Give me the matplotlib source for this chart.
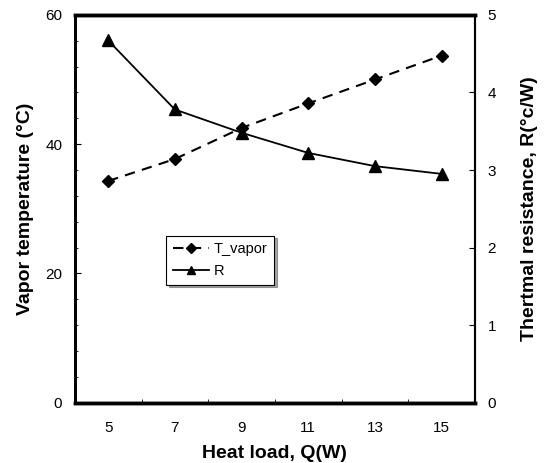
import matplotlib.pyplot as plt
from matplotlib.ticker import FixedLocator, NullFormatter

plt.rcParams['font.family'] = ['Liberation Sans', 'DejaVu Sans']

# 数据
heat_load = [5, 7, 9, 11, 13, 15]
t_vapor = [34.3, 37.7, 42.5, 46.3, 50.0, 53.7]
resistance = [4.67, 3.78, 3.48, 3.22, 3.05, 2.95]
x_labels = ['5', '7', '9', '11', '13', '15']

fig = plt.figure(figsize=(5.46, 4.63), dpi=100)
ax = fig.add_axes([0.137, 0.130, 0.733, 0.838])
ax2 = ax.twinx()

l1, = ax.plot(heat_load, t_vapor, color='black', linestyle=(0, (5, 3.5)), linewidth=1.5,
              marker='D', markersize=6, label='T_vapor')
l2, = ax2.plot(heat_load, resistance, color='black', linestyle='-', linewidth=1.3,
               marker='^', markersize=8, label='R')

ax.set_xlim(4, 16)
ax.set_ylim(0, 60)
ax2.set_ylim(0, 5)

# x 轴：刻度线在偶数位置，标签在奇数位置
ax.xaxis.set_major_locator(FixedLocator(heat_load))
ax.set_xticklabels(x_labels)
ax.tick_params(axis='x', which='major', length=0, pad=13, labelsize=11)
ax.xaxis.set_minor_locator(FixedLocator([6, 8, 10, 12, 14]))
ax.xaxis.set_minor_formatter(NullFormatter())
ax.tick_params(axis='x', which='minor', direction='in', length=3)

ax.set_yticks([0, 20, 40, 60])
ax.tick_params(axis='y', direction='in', length=4, labelsize=11, pad=9)
ax.yaxis.set_minor_locator(FixedLocator(list(range(4, 60, 4))))
ax.tick_params(axis='y', which='minor', direction='in', length=2)

ax2.set_yticks([0, 1, 2, 3, 4, 5])
ax2.tick_params(axis='y', direction='in', length=4, labelsize=11, pad=9)

for side, w in [('top', 2.5), ('bottom', 2.5), ('left', 2.0), ('right', 1.5)]:
    ax.spines[side].set_linewidth(w)
    ax2.spines[side].set_linewidth(w)

ax.set_xlabel('Heat load, Q(W)', fontsize=14, fontweight='bold', labelpad=7)
ax.set_ylabel('Vapor temperature (°C)', fontsize=14, fontweight='bold', labelpad=8)
ax2.set_ylabel('Thertmal resistance, R(°c/W)', fontsize=14, fontweight='bold', labelpad=18)

leg = ax.legend(handles=[l1, l2], loc='upper left', bbox_to_anchor=(0.21, 0.45),
                fontsize=10.5, frameon=True, fancybox=False, shadow=True,
                edgecolor='black', handlelength=2.5, handletextpad=0.3,
                borderpad=0.45, labelspacing=0.55, markerscale=0.8)
leg.get_frame().set_linewidth(0.8)

fig.savefig('out.png', dpi=100)
plt.close(fig)
